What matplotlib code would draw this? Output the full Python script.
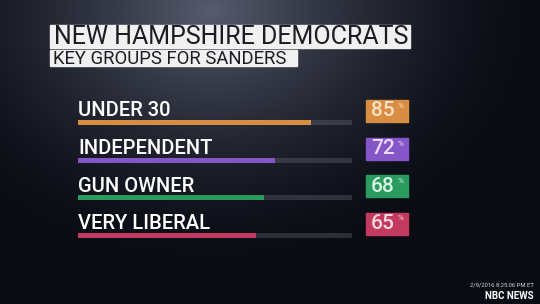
import matplotlib
matplotlib.use('Agg')
import matplotlib.pyplot as plt
import numpy as np

plt.rcParams['font.family'] = ['Roboto', 'DejaVu Sans']

title = 'NEW HAMPSHIRE DEMOCRATS'
subtitle = 'KEY GROUPS FOR SANDERS'
groups = ['UNDER 30', 'INDEPENDENT', 'GUN OWNER', 'VERY LIBERAL']
shares = [85, 72, 68, 65]
colors = ['#d98d42', '#8656c8', '#2b9a5e', '#c23a5f']
value_colors = ['#fbe3c4', '#eadcff', '#d9f5e4', '#fbd9e2']

W, H = 540, 304
fig = plt.figure(figsize=(W / 100, H / 100), dpi=100)

# background: dark navy gradient, brighter towards the top centre
bg = fig.add_axes([0, 0, 1, 1])
yy, xx = np.mgrid[0:H, 0:W]
d = np.sqrt(((xx - 210) / 320.0) ** 2 + ((yy - 10) / 250.0) ** 2)
glow = np.clip(1 - d, 0, 1) ** 1.5
base = np.array([0.04, 0.05, 0.08])
top = np.array([0.34, 0.36, 0.43])
img = base + glow[..., None] * (top - base)
bg.imshow(img, extent=[0, W, H, 0], aspect='auto')
bg.set_xlim(0, W)
bg.set_ylim(H, 0)
bg.axis('off')

# title boxes
bg.add_patch(plt.Rectangle((50, 25), 360, 23, color='#f0f0f0'))
bg.add_patch(plt.Rectangle((50, 50), 247, 16, color='#f0f0f0'))
bg.text(54, 37, title, fontsize=18, color='#1c1c22', va='center', ha='left')
bg.text(53, 58.5, subtitle, fontsize=13.3, color='#1c1c22', va='center', ha='left')

# footer
bg.text(534, 285, '2/9/2016 8:25:06 PM ET', fontsize=4.2, color='#d8d8d8',
        ha='right', va='center')
bg.text(534, 296, 'NBC NEWS', fontsize=7, color='white', fontweight='bold',
        ha='right', va='center')

# bar area, x in percent: 0 at 78px, 100 at 352px
px = 274 / 100.0
ax = fig.add_axes([0, 0, 1, 1])
ax.set_xlim(-78 / px, (W - 78) / px)
ax.set_ylim(H, 0)
ax.axis('off')
ax.patch.set_alpha(0)

rows = 122.5 + 37.5 * np.arange(len(groups))
ax.barh(rows, [100] * len(groups), height=5, color='#6a6f7a', alpha=0.35)
ax.barh(rows, shares, height=5, color=colors)

for y, g, v, c, vc in zip(rows, groups, shares, colors, value_colors):
    ax.text(0, y - 11.5, g, fontsize=14.5, color='white', ha='left', va='center',
            fontweight='medium')
    ax.add_patch(plt.Rectangle(((366 - 78) / px, y - 22.5), 42 / px, 22,
                               color=c, zorder=3))
    ax.text((371 - 78) / px, y - 11.5, str(v), fontsize=15, color=vc,
            ha='left', va='center', zorder=4, fontweight='medium')
    ax.text((398 - 78) / px, y - 16.5, '%', fontsize=6, color=vc,
            ha='left', va='center', zorder=4)

fig.savefig('out.png', dpi=100)
